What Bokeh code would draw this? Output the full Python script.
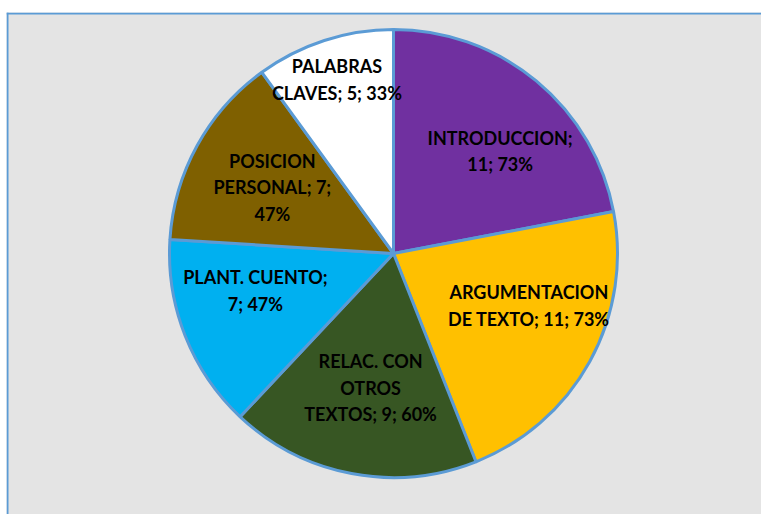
import math
from bokeh.plotting import figure
from bokeh.models import ColumnDataSource, Range1d, Span
from bokeh.core.properties import value
from bokeh.embed import file_html
from bokeh.resources import INLINE

# ---- data ----
categories = ["INTRODUCCION", "ARGUMENTACION DE TEXTO", "RELAC. CON OTROS TEXTOS",
              "PLANT. CUENTO", "POSICION PERSONAL", "PALABRAS CLAVES"]
values = [11, 11, 9, 7, 7, 5]
percents = ["73%", "73%", "60%", "47%", "47%", "33%"]
label_texts = [
    "INTRODUCCION;\n11; 73%",
    "ARGUMENTACION\nDE TEXTO; 11; 73%",
    "RELAC. CON\nOTROS\nTEXTOS; 9; 60%",
    "PLANT. CUENTO;\n7; 47%",
    "POSICION\nPERSONAL; 7;\n47%",
    "PALABRAS\nCLAVES; 5; 33%",
]
colors = ["#7030a0", "#ffc000", "#375623", "#00b0f0", "#7f6000", "#ffffff"]

# ---- layout (styling only) ----
R = 224
label_radius = [148, 145, 136, 143, 138, 183]
label_shift_deg = [-6.5, 7.8, 1.1, -6.6, 0.2, 0.0]

total = sum(values)
starts, ends, lx, ly = [], [], [], []
cum = 0
for i, v in enumerate(values):
    a_hi = math.pi / 2 - 2 * math.pi * cum / total
    cum += v
    a_lo = math.pi / 2 - 2 * math.pi * cum / total
    starts.append(a_lo)
    ends.append(a_hi)
    mid = (a_lo + a_hi) / 2 + math.radians(label_shift_deg[i])
    lx.append(label_radius[i] * math.cos(mid))
    ly.append(label_radius[i] * math.sin(mid))

src = ColumnDataSource(dict(cat=categories, val=values, start=starts, end=ends,
                            color=colors, lx=lx, ly=ly, label=label_texts))

p = figure(width=761, height=514, output_backend="svg", toolbar_location=None,
           x_axis_type=None, y_axis_type=None,
           x_range=Range1d(-387, 368), y_range=Range1d(-261, 241),
           min_border_left=6, min_border_right=0, min_border_bottom=0, min_border_top=12)
p.background_fill_color = "#e4e4e4"
p.border_fill_color = "#ffffff"
p.outline_line_color = None
p.grid.visible = False

p.wedge(x=0, y=0, radius=R, start_angle="start", end_angle="end",
        fill_color="color", line_color="#5b9bd5", line_width=3, source=src)

p.text(x="lx", y="ly", text="label", source=src,
       text_font=value("Lato"), text_font_style="bold", text_font_size="18px",
       text_color="#000000", text_align="center", text_baseline="middle",
       text_line_height=1.2)

p.add_layout(Span(location=-386, dimension="height", line_color="#5b9bd5", line_width=2))
p.add_layout(Span(location=240, dimension="width", line_color="#5b9bd5", line_width=2))

open("out.html", "w").write(file_html(p, INLINE))
